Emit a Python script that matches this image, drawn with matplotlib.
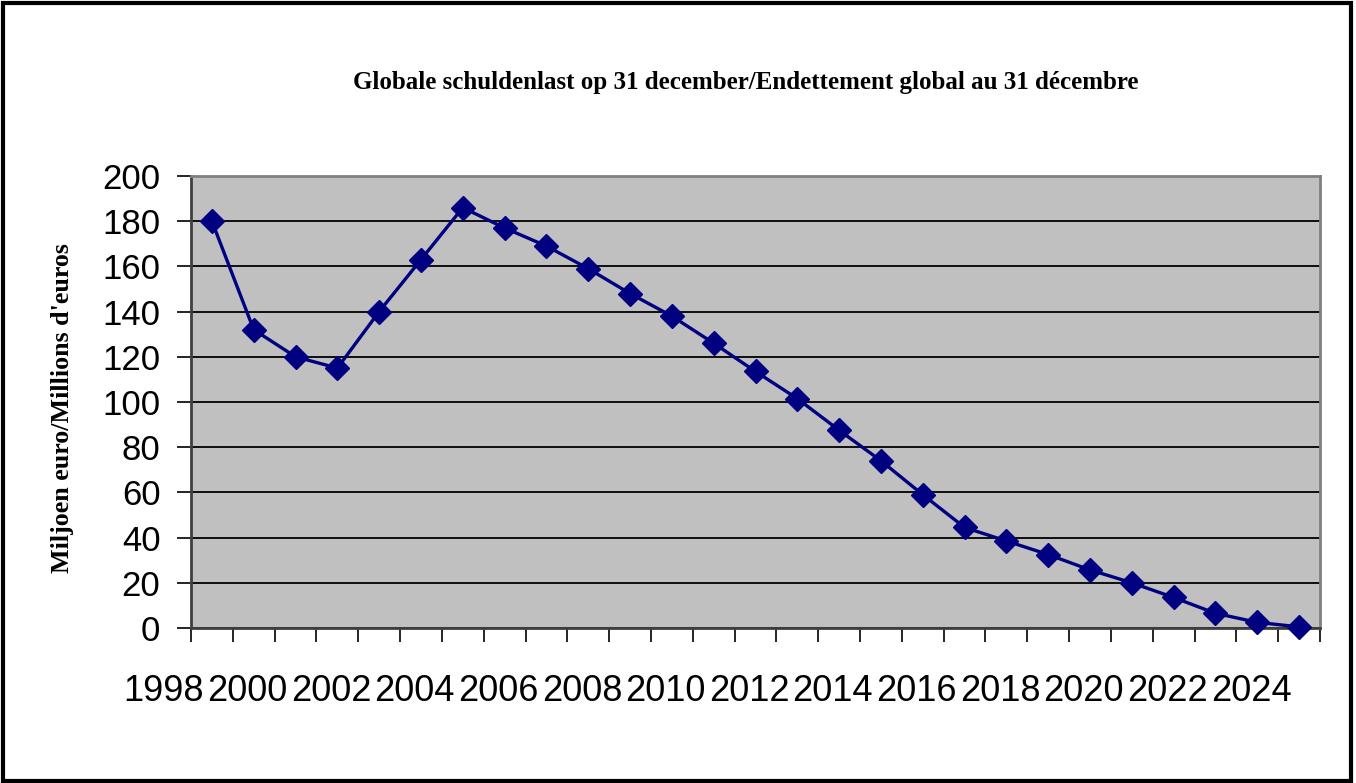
import matplotlib.pyplot as plt
from matplotlib.patches import Rectangle
from matplotlib.transforms import blended_transform_factory

# data
years = list(range(1999, 2026))
debt = [180, 132, 120, 115, 140, 163, 186, 177, 169, 159, 148, 138, 126, 113.5, 101.5,
        87.5, 74, 59, 44.5, 38.5, 32.5, 25.7, 20, 13.5, 6.5, 2.5, 0.5]
year_labels = list(range(1998, 2025, 2))
y_ticks = list(range(0, 201, 20))

title = "Globale schuldenlast op 31 december/Endettement global au 31 décembre"
ylabel = "Miljoen euro/Millions d'euros"

fig = plt.figure(figsize=(13.56, 7.83), dpi=100)
ax = fig.add_axes([191 / 1356, 1 - 628 / 783, (1320 - 191) / 1356, (628 - 176) / 783])

ax.set_facecolor("#C0C0C0")
ax.plot(years, debt, color="#000080", lw=2.4, marker="D", ms=12, mec="#000080", mfc="#000080",
        zorder=3, clip_on=False)

ax.set_xlim(years[0] - 0.5, years[-1] + 0.5)
ax.set_ylim(0, 200)
ax.set_yticks(y_ticks)
ax.set_yticklabels([str(v) for v in y_ticks], fontfamily="Liberation Sans", fontsize=25)
ax.yaxis.grid(True, color="black", lw=1.3)
ax.set_axisbelow(True)

# category boundaries as tick marks, no labels there
ax.set_xticks([y - 0.5 for y in years] + [years[-1] + 0.5])
ax.set_xticklabels([])
ax.tick_params(axis="both", direction="out", length=10, width=1.2, color="black")
ax.tick_params(axis="y", pad=12)

trans = blended_transform_factory(ax.transData, ax.transAxes)
for yr in year_labels:
    ax.text(yr - 0.15, -0.14, str(yr), transform=trans, ha="center", va="center",
            fontfamily="Liberation Sans", fontsize=26, clip_on=False)

for side in ["top", "right"]:
    ax.spines[side].set_color("#808080")
    ax.spines[side].set_linewidth(2)
ax.spines["left"].set_color("#404040")
ax.spines["left"].set_linewidth(2)
ax.spines["bottom"].set_color("#404040")
ax.spines["bottom"].set_linewidth(2)

fig.text(746 / 1356, 1 - 83 / 783, title, ha="center", va="center",
         fontfamily="Liberation Serif", fontweight="bold", fontsize=18)
fig.text(63 / 1356, 1 - 408 / 783, ylabel, ha="center", va="center", rotation=90,
         fontfamily="Liberation Serif", fontweight="bold", fontsize=18.7)

fig.patches.append(Rectangle((0.002, 0.003), 0.994, 0.993, transform=fig.transFigure,
                             fill=False, edgecolor="black", lw=3))

fig.savefig("out.png", dpi=100)
